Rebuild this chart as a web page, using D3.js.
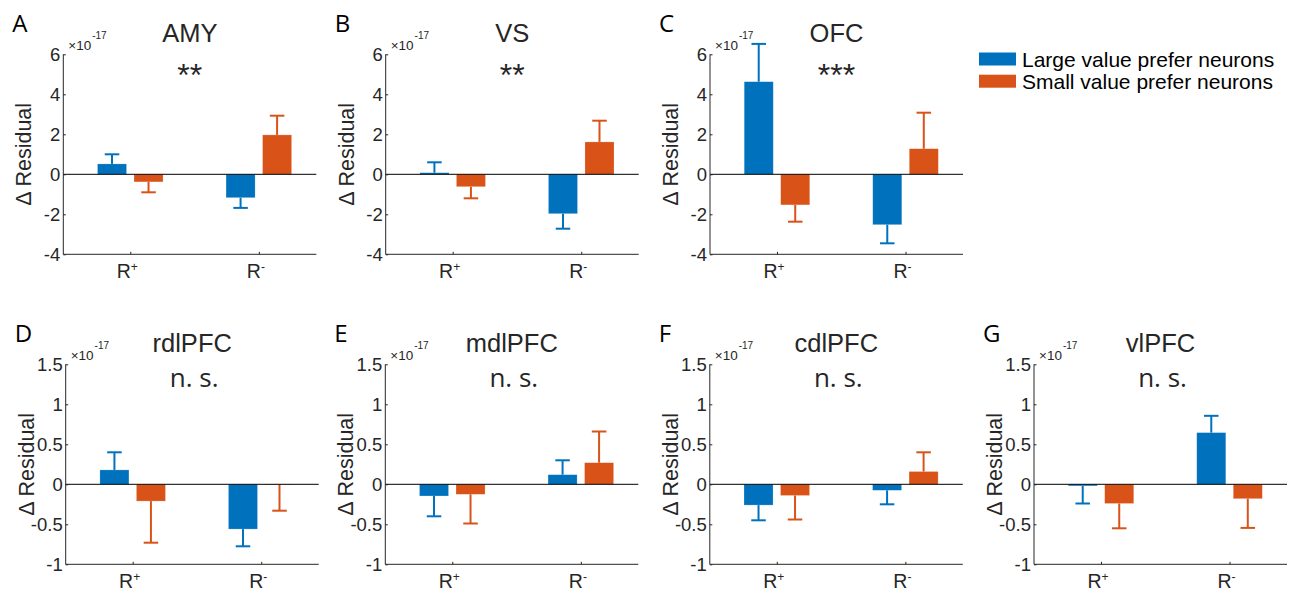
<!DOCTYPE html>
<html>
<head>
<meta charset="utf-8">
<script src="https://cdn.jsdelivr.net/npm/d3@7"></script>
<style>
  body { margin: 0; background: #fff; }
  svg { display: block; }
</style>
</head>
<body>
<svg id="fig" width="1292" height="593"></svg>
<script>
// Values are in units of 1e-17
const panelLetters = ["A", "B", "C", "D", "E", "F", "G"];
const regions = ["AMY", "VS", "OFC", "rdlPFC", "mdlPFC", "cdlPFC", "vlPFC"];
const significance = ["**", "**", "***", "n. s.", "n. s.", "n. s.", "n. s."];
const categories = ["R+", "R-"];
const seriesNames = ["Large value prefer neurons", "Small value prefer neurons"];

// [R+, R-] for each region
const largeMean = [[0.52, -1.17], [0.08, -1.97], [4.63, -2.52], [0.18, -0.56], [-0.146, 0.12], [-0.26, -0.075], [-0.02, 0.646]];
const largeErr  = [[0.48, 0.51], [0.52, 0.75], [1.89, 0.93], [0.22, 0.215], [0.254, 0.18], [0.19, 0.175], [0.22, 0.21]];
const smallMean = [[-0.38, 1.97], [-0.62, 1.62], [-1.53, 1.28], [-0.21, -0.004], [-0.125, 0.27], [-0.14, 0.16], [-0.24, -0.18]];
const smallErr  = [[0.52, 0.96], [0.58, 1.06], [0.84, 1.8], [0.52, 0.326], [0.365, 0.39], [0.30, 0.24], [0.31, 0.365]];

const topTicks = [-4, -2, 0, 2, 4, 6];
const bottomTicks = [-1, -0.5, 0, 0.5, 1, 1.5];

const colors = ["#0072BD", "#D95319"];

// panel boxes (layout)
const boxes = [
  { left: 63.3, top: 54.3 }, { left: 385.7, top: 54.3 }, { left: 710, top: 54.3 },
  { left: 65.7, top: 364.3 }, { left: 385.3, top: 364.3 }, { left: 709.8, top: 364.3 }, { left: 1034, top: 364.3 }
];
const boxW = 253, boxH = 200;

const svg = d3.select("#fig");
const axisColor = "#262626";
const numFont = "'Liberation Sans', Arial, Helvetica, sans-serif";
const letterFont = "'Open Sans', 'Noto Sans', sans-serif";

panelLetters.forEach((letter, i) => {
  const b = boxes[i];
  const ticks = i < 3 ? topTicks : bottomTicks;
  const g = svg.append("g").attr("transform", `translate(${b.left},${b.top})`);

  const x = d3.scaleLinear().domain([0.479, 2.447]).range([0, boxW]);
  const y = d3.scaleLinear().domain(d3.extent(ticks)).range([boxH, 0]);
  const barW = 0.226, offset = 0.142;
  const capW = 0.113;

  const bars = [];
  categories.forEach((c, ci) => {
    bars.push({ s: 0, x: ci + 1 - offset, v: largeMean[i][ci], e: largeErr[i][ci] });
    bars.push({ s: 1, x: ci + 1 + offset, v: smallMean[i][ci], e: smallErr[i][ci] });
  });

  g.selectAll("rect.bar")
    .data(bars)
    .enter()
    .append("rect")
    .attr("class", "bar")
    .attr("x", d => x(d.x - barW / 2))
    .attr("width", d => x(d.x + barW / 2) - x(d.x - barW / 2))
    .attr("y", d => y(Math.max(0, d.v)))
    .attr("height", d => Math.abs(y(d.v) - y(0)))
    .attr("fill", d => colors[d.s])
    .attr("stroke", "#ffffff")
    .attr("stroke-opacity", 0.35)
    .attr("stroke-width", 0.6);

  // error bars (one sided, away from zero)
  const eb = g.selectAll("g.err")
    .data(bars)
    .enter()
    .append("g")
    .attr("class", "err")
    .attr("stroke", d => colors[d.s])
    .attr("stroke-width", 2);
  eb.append("line")
    .attr("x1", d => x(d.x)).attr("x2", d => x(d.x))
    .attr("y1", d => y(d.v))
    .attr("y2", d => y(d.v + Math.sign(d.v) * d.e));
  eb.append("line")
    .attr("x1", d => x(d.x - capW / 2)).attr("x2", d => x(d.x + capW / 2))
    .attr("y1", d => y(d.v + Math.sign(d.v) * d.e))
    .attr("y2", d => y(d.v + Math.sign(d.v) * d.e));

  // zero line
  g.append("line")
    .attr("x1", 0).attr("x2", boxW)
    .attr("y1", y(0)).attr("y2", y(0))
    .attr("stroke", "#000").attr("stroke-width", 1);

  // y axis
  const yAxis = d3.axisLeft(y).tickValues(ticks).tickSize(-2.5).tickPadding(3)
    .tickFormat(d => d3.format("")(d).replace("−", "-"));
  const ya = g.append("g").call(yAxis);
  ya.select(".domain").attr("stroke", axisColor).attr("d", `M0,0V${boxH}`);
  ya.selectAll(".tick line").attr("stroke", axisColor);
  ya.selectAll(".tick text")
    .attr("fill", axisColor)
    .style("font-family", numFont)
    .style("font-size", "18.5px");

  // x axis
  const xa = g.append("g").attr("transform", `translate(0,${boxH})`)
    .call(d3.axisBottom(x).tickValues([1, 2]).tickSize(-2.5).tickFormat(""));
  xa.select(".domain").attr("stroke", axisColor).attr("d", `M0,0H${boxW}`);
  xa.selectAll(".tick line").attr("stroke", axisColor);

  categories.forEach((c, ci) => {
    const t = g.append("text")
      .attr("x", x(ci + 1) - 3)
      .attr("y", boxH + 24)
      .attr("text-anchor", "middle")
      .attr("fill", axisColor)
      .style("font-family", numFont)
      .style("font-size", "19.5px");
    t.append("tspan").text(c[0]);
    t.append("tspan").attr("dy", -7).style("font-size", "12px").text(c[1] === "+" ? "+" : "-");
  });

  // exponent label
  const ex = g.append("text")
    .attr("x", 5)
    .attr("y", -4.5)
    .attr("fill", axisColor)
    .style("font-family", numFont)
    .style("font-size", "13.5px");
  ex.append("tspan").text("×10");
  ex.append("tspan").attr("dy", -11).attr("dx", 1).style("font-size", "10px").text("-17");

  // y label
  g.append("text")
    .attr("transform", `translate(-32,${boxH / 2}) rotate(-90)`)
    .attr("text-anchor", "middle")
    .attr("fill", axisColor)
    .style("font-family", numFont)
    .style("font-size", "21.5px")
    .text("Δ Residual");

  // title
  g.append("text")
    .attr("x", boxW / 2)
    .attr("y", -12.5)
    .attr("text-anchor", "middle")
    .attr("fill", axisColor)
    .style("font-family", numFont)
    .style("font-size", "25.5px")
    .text(regions[i]);

  // significance
  if (significance[i].startsWith("*")) {
    g.append("text")
      .attr("x", boxW / 2)
      .attr("y", 32)
      .attr("text-anchor", "middle")
      .attr("fill", axisColor)
      .style("font-family", numFont)
      .style("font-size", "32px")
      .text(significance[i]);
  } else {
    g.append("text")
      .attr("x", boxW / 2 + 2)
      .attr("y", 23)
      .attr("text-anchor", "middle")
      .attr("fill", axisColor)
      .style("font-family", letterFont)
      .style("font-size", "26px")
      .text(significance[i]);
  }

  // panel letter
  svg.append("text")
    .attr("x", b.left - 51)
    .attr("y", b.top - 22.6)
    .attr("fill", "#000")
    .style("font-family", letterFont)
    .style("font-size", "24px")
    .text(letter);
});

// legend
const legend = svg.append("g").attr("transform", "translate(979,52.5)");
seriesNames.forEach((name, i) => {
  legend.append("rect")
    .attr("x", 0).attr("y", i * 22.2)
    .attr("width", 37).attr("height", 13)
    .attr("fill", colors[i]);
  legend.append("text")
    .attr("x", 43).attr("y", i * 22.2 + 14)
    .attr("fill", "#000")
    .style("font-family", numFont)
    .style("font-size", "21px")
    .text(name);
});
</script>
</body>
</html>
